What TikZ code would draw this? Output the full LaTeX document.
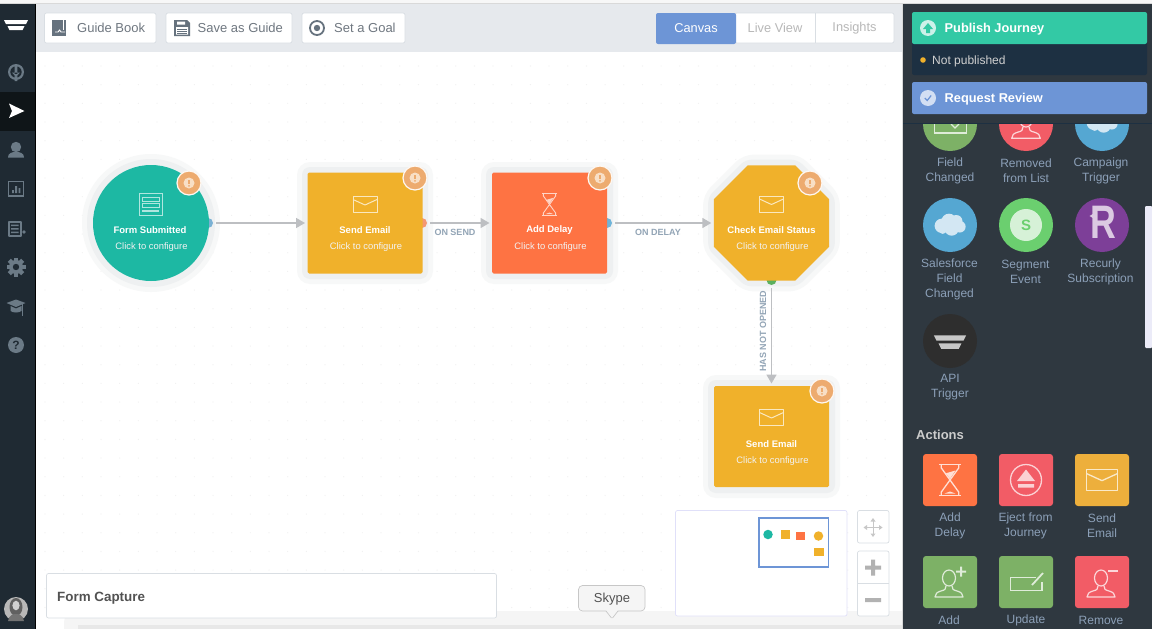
\documentclass[tikz,border=0pt]{standalone}
\usepackage{fontspec}
\setmainfont{Liberation Sans}
\usetikzlibrary{arrows.meta,shapes.geometric}
\definecolor{sidebar}{HTML}{1F2A33}
\definecolor{sideact}{HTML}{0F1518}
\definecolor{sideicon}{HTML}{6B7A86}
\definecolor{panelbg}{HTML}{2F3840}
\definecolor{panellab}{HTML}{8CA0B8}
\definecolor{barbg}{HTML}{E6E9ED}
\definecolor{btnline}{HTML}{D9DEE3}
\definecolor{btntext}{HTML}{6F7780}
\definecolor{btnicon}{HTML}{66727E}
\definecolor{teal}{HTML}{1DB8A3}
\definecolor{amber}{HTML}{F0B12B}
\definecolor{flame}{HTML}{FE7343}
\definecolor{badge}{HTML}{EDAB6F}
\definecolor{badgein}{HTML}{F8DFC6}
\definecolor{halo}{HTML}{EEF0F1}
\definecolor{halofar}{HTML}{F7F8F8}
\definecolor{conn}{HTML}{BDBFC2}
\definecolor{connlab}{HTML}{93A5B6}
\definecolor{blueb}{HTML}{6D95D6}
\definecolor{greenb}{HTML}{33C9A5}
\definecolor{navy}{HTML}{1D3042}
\definecolor{leaf}{HTML}{7DB166}
\definecolor{rosy}{HTML}{F25C66}
\definecolor{sky}{HTML}{55A7D2}
\definecolor{cloudc}{HTML}{D3E7F3}
\definecolor{lime}{HTML}{6BCF6F}
\definecolor{plum}{HTML}{7D3F98}
\definecolor{gold}{HTML}{EDAF3C}
\tikzset{
 x=1pt,y=-1pt,
 flownode/.style={inner sep=0pt,outer sep=0pt,minimum width=115pt,minimum height=101pt,rounded corners=1.5pt},
 port/.style={circle,inner sep=0pt,minimum size=10pt},
 edge/.style={draw=conn,line width=1.6pt,-{Triangle[length=9pt,width=10pt]},shorten <=3pt,shorten >=2.5pt},
 edgelab/.style={font=\fontsize{9}{10}\selectfont\bfseries,text=connlab,inner sep=0pt},
 ntitle/.style={font=\fontsize{9.5}{12}\selectfont\bfseries,text=white,inner sep=0pt},
 nsub/.style={font=\fontsize{9.4}{11}\selectfont,text=white!95!black,inner sep=0pt},
 btn/.style={draw=btnline,fill=white,rounded corners=2pt,line width=.7pt},
 btnlab/.style={font=\fontsize{13}{15}\selectfont,text=btntext,inner sep=0pt,anchor=west},
 tablab/.style={font=\fontsize{12.8}{15}\selectfont,inner sep=0pt},
 plab/.style={font=\fontsize{12}{15}\selectfont,text=panellab,align=center,inner sep=0pt},
 headlab/.style={font=\fontsize{12.8}{15}\selectfont\bfseries,text=white,inner sep=0pt,anchor=west},
 round/.style={circle,inner sep=0pt,minimum size=54pt},
 tile/.style={rounded corners=3pt,inner sep=0pt,minimum width=54pt,minimum height=52pt},
 envelope/.pic={\draw[line join=round] (-12,-8) rectangle (12,8); \draw[line join=round] (-12,-5) -- (0,0.5) -- (12,-5);},
 hourglass/.pic={\draw (-8,-11.5) -- (8,-11.5) (-8,11.5) -- (8,11.5);
   \draw[line join=round] (-6.5,-11.5) -- (-6.5,-9) -- (6.5,9) -- (6.5,11.5) (6.5,-11.5) -- (6.5,-9) -- (-6.5,9) -- (-6.5,11.5);
   \fill (-3,-5) -- (4,-7) -- (0,-1) -- cycle; \fill (-4,10) -- (4,10) -- (0,8.5) -- cycle;},
 person/.pic={\draw (0,-5) ellipse (6.5 and 8);
   \draw[line join=round] (-3,3) .. controls (-3,6) and (-4,7) .. (-8,8) .. controls (-12,9) and (-14,11) .. (-14,14) -- (14,14) .. controls (14,11) and (12,9) .. (8,8) .. controls (4,7) and (3,6) .. (3,3);},
 cloudicon/.pic={\fill (-8,2) circle (8) (0,-3) circle (8.5) (8,-3) circle (7) (12,3) circle (6.5) (3,5) circle (8) (-7,7) circle (4);},
 badgeicon/.pic={\fill[badge,draw=white!92!badge,line width=1.2pt] (0,0) circle (12); \fill[badgein] (0,0) circle (5.5); \fill[badge] (-1,-3.5) rectangle (1,1); \fill[badge] (0,2.8) circle (1);},
 logoicon/.pic={\fill (-12,-5) -- (12,-5) -- (10,-1) -- (-10,-1) -- cycle; \fill (-8.5,1) -- (8.5,1) -- (6.5,5) -- (-6.5,5) -- cycle;},
}
\begin{document}
\begin{tikzpicture}
\useasboundingbox (0,0) rectangle (1152,629);
\clip (0,0) rectangle (1152,629);
\fill[white] (0,0) rectangle (1152,629);
% canvas dots
\foreach \i in {0,...,45}{\foreach \j in {0,...,29}{\fill[black!6] ({45+18.67*\i},{66+18.67*\j}) circle (.6);}}
% top
\fill[black!3] (0,0) rectangle (1152,3);
\fill[black!15] (0,3) rectangle (1152,4);
\fill[barbg] (36,4) rectangle (903,52);
% bottom strip
\fill[black!4] (64,629) -- (64,622) .. controls (64,615) and (70,611) .. (78,611) -- (903,611) -- (903,629) -- cycle;
\fill[black!9] (78,625) rectangle (903,629);
% sidebar
\fill[sidebar] (0,4) rectangle (35,629);
\fill[black] (35,4) rectangle (36,629);
\fill[sideact] (0,92) rectangle (35,131);
\pic[color=white] at (16,25) {logoicon};
\fill[sideicon] (16,72) circle (8) ; \fill[sidebar] (16,72) circle (5.7);
\fill[sideicon] (14.7,66) rectangle (17.3,74) (12,72.5) -- (20,72.5) -- (16,77) -- cycle (14.7,76) rectangle (17.3,81);
\fill[white] (9,103.5) -- (24.5,111) -- (9,118) -- (12,111) -- cycle;
\fill[sideicon] (16,147) circle (5.2);
\fill[sideicon] (8,157.5) .. controls (8,153) and (12,152) .. (16,152) .. controls (20,152) and (24,153) .. (24,157.5) -- cycle;
\draw[sideicon,line width=1.5pt] (8.7,181.5) rectangle (23.3,196);
\fill[sideicon] (12,190) rectangle (13.8,193) (15.2,186) rectangle (17,193) (18.5,188) rectangle (20.3,193);
\draw[sideicon,line width=2pt,line join=round] (9,221.5) rectangle (20.5,236);
\fill[sideicon] (11,224.5) rectangle (18.5,226) (11,228) rectangle (18.5,229.5) (11,231.5) rectangle (18.5,233);
\fill[sideicon] (24,232) circle (1.8);
\foreach \a in {0,45,...,315}{\fill[sideicon,rotate around={\a:(16,267)}] (13.8,257.5) rectangle (18.2,262);}
\fill[sideicon] (16,267) circle (7); \fill[sidebar] (16,267) circle (3.2);
\fill[sideicon] (6.5,303) -- (16,299.5) -- (25.5,303) -- (16,307) -- cycle;
\fill[sideicon] (10.5,306) -- (16,308.5) -- (21.5,306) -- (21.5,311) .. controls (19,313) and (13,313) .. (10.5,311) -- cycle;
\draw[sideicon,line width=.8pt] (22.5,304) -- (22.5,316);
\node[circle,fill=sideicon,minimum size=16pt,inner sep=0pt,text=sidebar,font=\fontsize{12}{12}\selectfont\bfseries] (help) at (16,345) {?};
% avatar
\fill[black!28] (16,609) circle (12);
\fill[black!62] (16,607) ellipse (6.5 and 9);
\fill[black!18] (16,605.5) ellipse (3.6 and 4.8);
\fill[black!55] (8,621) .. controls (9,615) and (13,614) .. (16,614) .. controls (19,614) and (23,615) .. (24,621) -- cycle;
% toolbar buttons
\draw[btn] (44.5,13) rectangle (156,43);
\fill[btnicon] (52,20) rectangle (66,36);
\draw[white,line width=.9pt] (55,32) -- (58,32) -- (59.5,30) -- (61,32) -- (65,32);
\fill[white] (63,20) rectangle (63.8,30);
\node[btnlab] (guide) at (77,28) {Guide Book};
\draw[btn] (166,13) rectangle (292,43);
\fill[btnicon] (174,20) -- (187,20) -- (190,23) -- (190,36) -- (174,36) -- cycle;
\fill[white] (177,21.5) rectangle (185,24.5) (176,27) rectangle (188,34.5);
\draw[btnicon,line width=.8pt] (177,29) -- (187,29) (177,31) -- (187,31) (177,33) -- (187,33);
\node[btnlab] (save) at (197.5,28) {Save as Guide};
\draw[btn] (302,13) rectangle (405,43);
\draw[btnicon,line width=1.8pt] (317,28) circle (7);
\fill[btnicon] (317,28) circle (3.2);
\node[btnlab] (goal) at (334,28) {Set a Goal};
% tabs
\draw[btn,draw=btnline] (735,13) rectangle (894,43);
\draw[btnline,line width=.7pt] (815.5,13) -- (815.5,43);
\fill[blueb,rounded corners=2pt] (656,13) rectangle (736,44);
\node[tablab,text=white] (canvas) at (696,28) {Canvas};
\node[tablab,text=black!28] (live) at (775,28) {Live View};
\node[tablab,text=black!28] (ins) at (854.5,28) {Insights};
% halos
\fill[halofar] (151,223) circle (69);
\fill[halo] (151,223) circle (64);
\foreach \a/\b/\c/\d in {308/173/422/273,492/173/607/273,714/386/829/487}{
 \fill[halofar,rounded corners=13pt] (\a-11,\b-11) rectangle (\c+11,\d+11);
 \fill[halo,rounded corners=8pt] (\a-6,\b-6) rectangle (\c+6,\d+6);}
\node[regular polygon,regular polygon sides=8,minimum size=148pt,inner sep=0pt,fill=halofar,rounded corners=10pt] (octfar) at (771.5,223) {};
\node[regular polygon,regular polygon sides=8,minimum size=137pt,inner sep=0pt,fill=halo,rounded corners=6pt] (octnear) at (771.5,223) {};
% ports
\node[port,fill=blueb!75!teal!80!white] (p1) at (208,223) {};
\node[port,fill=rosy!60!amber!80!white] (p2) at (422,223) {};
\node[port,fill=sky!85!white] (p3) at (607,223) {};
\node[port,fill=lime!85!black] (p4) at (771.5,280) {};
% nodes
\node[circle,fill=teal,minimum size=116pt,inner sep=0pt] (form) at (151,223) {};
\node[flownode,fill=amber] (send1) at (365,223) {};
\node[flownode,fill=flame] (delay) at (549.5,223) {};
\node[regular polygon,regular polygon sides=8,minimum size=124.5pt,inner sep=0pt,fill=amber] (check) at (771.5,223) {};
\node[flownode,fill=amber] (send2) at (771.5,436.5) {};
% connectors
\draw[edge] (p1) -- (send1);
\draw[edge] (p2) -- (delay);
\draw[edge] (p3) -- (check);
\draw[edge] (p4) -- (send2);
\node[edgelab] (lsend) at (455,232) {ON SEND};
\node[edgelab] (ldelay) at (658,232) {ON DELAY};
\node[edgelab,rotate=90] (lopen) at (763,331) {HAS NOT OPENED};
% node icons
\draw[white!65!teal,line width=.8pt] (139.5,193) rectangle (162,215.5);
\draw[white!65!teal,line width=.7pt] (142,197) rectangle (159,201.5) (142,203.5) rectangle (159,207.5);
\fill[white!65!teal] (142,209.5) rectangle (159,212);
\pic[color=white!70!amber,line width=1pt] at (365,204.5) {envelope};
\pic[color=white!70!flame,line width=.9pt,scale=.95] at (549.5,204.5) {hourglass};
\pic[color=white!70!amber,line width=1pt] at (771.5,204) {envelope};
\pic[color=white!70!amber,line width=1pt] at (771.5,417.5) {envelope};
% node text
\node[ntitle] (t1) at (150,230.5) {Form Submitted};
\node[nsub] (s1) at (151.5,247.5) {Click to configure};
\node[ntitle] (t2) at (365,230.5) {Send Email};
\node[nsub] (s2) at (366,247.5) {Click to configure};
\node[ntitle] (t3) at (549.5,230.5) {Add Delay};
\node[nsub] (s3) at (550.5,247.5) {Click to configure};
\node[ntitle] (t4) at (771.5,230.5) {Check Email Status};
\node[nsub] (s4) at (772.5,247.5) {Click to configure};
\node[ntitle] (t5) at (771.5,444) {Send Email};
\node[nsub] (s5) at (772.5,461) {Click to configure};
% badges
\pic at (189,183) {badgeicon};
\pic at (415,178) {badgeicon};
\pic at (600,178) {badgeicon};
\pic at (810,183) {badgeicon};
\pic at (822,391) {badgeicon};
% form capture
\draw[btn] (46.5,573.5) rectangle (496.5,618);
\node[font=\fontsize{13.4}{15}\selectfont\bfseries,text=black!68,inner sep=0pt,anchor=west] (fc) at (57,598) {Form Capture};
% minimap
\draw[draw=black!20!blue!12!white,fill=white,rounded corners=2pt,line width=.7pt] (675.5,510.5) rectangle (847,616);
\draw[blueb,line width=1.5pt] (759,518) rectangle (828.5,567);
\node[circle,fill=teal,minimum size=9.5pt,inner sep=0pt] (m1) at (768,534.5) {};
\fill[amber] (780.5,530) rectangle (790,538.5);
\fill[flame] (796,532) rectangle (805,540);
\node[circle,fill=amber,minimum size=9.5pt,inner sep=0pt] (m4) at (818.5,536) {};
\fill[amber] (814,548) rectangle (823.5,556);
\draw[btn] (857.5,510.5) rectangle (889,543);
\draw[black!22,line width=1pt] (865,527.5) -- (881,527.5) (873,519) -- (873,536);
\fill[black!22] (863.5,527.5) -- (867,525) -- (867,530) -- cycle (882.5,527.5) -- (879,525) -- (879,530) -- cycle (873,518) -- (870.5,521.5) -- (875.5,521.5) -- cycle (873,537) -- (870.5,533.5) -- (875.5,533.5) -- cycle;
\draw[btn] (857.5,551) rectangle (889,616);
\draw[btnline,line width=.7pt] (857.5,583.5) -- (889,583.5);
\fill[black!30] (865,565.5) rectangle (881,569.5) (871,559.5) rectangle (875,575.5) (865,598) rectangle (881,602);
% skype tooltip
\path[fill=black!4,draw=black!22,line width=.7pt,rounded corners=4pt] (578.5,585.5) rectangle (645,611);
\path[fill=black!4] (606,610) -- (612,620) -- (618,610) -- cycle;
\draw[black!22,line width=.7pt] (606,611) -- (611.5,618) (618,611) -- (612.5,618);
\node[font=\fontsize{13}{15}\selectfont,text=black!68,inner sep=0pt] (skype) at (612,599) {Skype};
% right panel
\fill[black!15] (902,4) rectangle (903,629);
\fill[panelbg] (903,4) rectangle (1152,629);
% clipped first row
\begin{scope}
\clip (903,124) rectangle (1152,170);
\fill[leaf] (950,124) circle (27);
\draw[white!75!leaf,line width=1.3pt] (934.5,118) rectangle (966.5,133);
\draw[white!75!leaf,line width=1.3pt] (951,124) -- (955,128) -- (959,124);
\fill[rosy] (1026,124) circle (27);
\pic[color=white!75!rosy,line width=1.2pt,scale=1.02] at (1026,124) {person};
\fill[sky] (1102,124) circle (27);
\pic[color=cloudc,scale=.9] at (1101,121) {cloudicon};
\end{scope}
\fill[navy] (903,122.5) rectangle (1152,123.5);
\fill[navy,rounded corners=2pt] (912,40) rectangle (1147,75);
\fill[greenb,rounded corners=2pt] (912,12) rectangle (1147,44);
\fill[white!75!greenb] (928,28) circle (8);
\fill[greenb] (928,23) -- (933,29) -- (930,29) -- (930,33) -- (926,33) -- (926,29) -- (923,29) -- cycle;
\node[headlab] (pub) at (944.5,29) {Publish Journey};
\fill[amber] (923,60) circle (2.8);
\node[font=\fontsize{12}{15}\selectfont,text=black!18,inner sep=0pt,anchor=west] (np) at (932,61.5) {Not published};
\fill[blueb,rounded corners=2pt] (912,82) rectangle (1147,114);
\fill[white!70!blueb] (928,98) circle (8);
\draw[blueb,line width=1.2pt] (924.8,98) -- (927.2,100.5) -- (931.2,95.5);
\node[headlab] (rev) at (944.5,99) {Request Review};
% panel scroll
\fill[black!32!blue!8!white,rounded corners=1pt] (1145,206) rectangle (1152,348);
% row 1 labels
\node[plab] (a1) at (950,170.5) {Field\\Changed};
\node[plab] (a2) at (1026,170.5) {Removed\\from List};
\node[plab] (a3) at (1101,170.5) {Campaign\\Trigger};
% row 2
\node[round,fill=sky] (b1) at (950,225) {};
\pic[color=cloudc,scale=.9] at (949,224) {cloudicon};
\node[plab] (b1l) at (949.5,279.5) {Salesforce\\Field\\Changed};
\node[round,fill=lime] (b2) at (1026,225) {};
\fill[white!72!lime] (1026,225) circle (16);
\node[font=\fontsize{15}{15}\selectfont\bfseries,text=lime,inner sep=0pt] (b2s) at (1026,225.5) {S};
\node[plab] (b2l) at (1025.5,272) {Segment\\Event};
\node[round,fill=plum] (b3) at (1102,225) {};
\node[font=\fontsize{47}{47}\selectfont\bfseries,text=white!72!plum,inner sep=0pt,transform shape,xscale=.76] (b3r) at (1103,222.5) {R};
\fill[white!72!plum] (1089.5,216) -- (1097,211.5) -- (1097,220.5) -- cycle;
\node[plab] (b3l) at (1100.5,272) {Recurly\\Subscription};
% API
\node[round,fill=black!82] (c1) at (950,341) {};
\pic[color=black!22,scale=1.35] at (950,342) {logoicon};
\node[plab] (c1l) at (950,387.5) {API\\Trigger};
% actions
\node[font=\fontsize{13}{15}\selectfont\bfseries,text=black!20,inner sep=0pt,anchor=west] (act) at (916,434.5) {Actions};
\node[tile,fill=flame] (d1) at (950,480) {};
\pic[color=white!78!flame,line width=1.3pt,scale=1.35] at (950,480) {hourglass};
\node[plab] (d1l) at (950,525.5) {Add\\Delay};
\node[tile,fill=rosy] (d2) at (1026,480) {};
\draw[white!72!rosy,line width=1.3pt] (1026,480) circle (15.5);
\fill[white!72!rosy] (1026,469.5) -- (1035,481) -- (1017,481) -- cycle (1018,484) rectangle (1034,487.5);
\node[plab] (d2l) at (1025.5,525.5) {Eject from\\Journey};
\node[tile,fill=gold] (d3) at (1102,480) {};
\pic[color=white!72!gold,line width=1.3pt,scale=1.3] at (1102,480) {envelope};
\node[plab] (d3l) at (1102,525.5) {Send\\Email};
\node[tile,fill=leaf] (e1) at (950,582) {};
\pic[color=white!75!leaf,line width=1.2pt,scale=1] at (949,583) {person};
\fill[white!75!leaf] (956,570.6) rectangle (966,572.6) (960,566.6) rectangle (962,576.6);
\node[plab] (e1l) at (949,620.5) {Add};
\node[tile,fill=leaf] (e2) at (1026,582) {};
\draw[white!75!leaf,line width=1.2pt] (1036,577.5) -- (1010.5,577.5) -- (1010.5,590.5) -- (1042,590.5) -- (1042,582);
\draw[white!75!leaf,line width=1.8pt] (1032,585) -- (1043,573);
\node[plab] (e2l) at (1026,620.5) {Update};
\node[tile,fill=rosy] (e3) at (1102,582) {};
\pic[color=white!75!rosy,line width=1.2pt,scale=1] at (1101,583) {person};
\fill[white!75!rosy] (1108,569.5) rectangle (1118,571.5);
\node[plab] (e3l) at (1101,620.5) {Remove};
\end{tikzpicture}
\end{document}
